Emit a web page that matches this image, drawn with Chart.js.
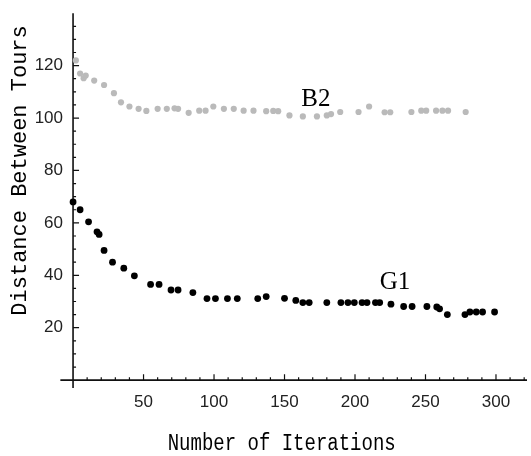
<!DOCTYPE html>
<html>
<head>
<meta charset="utf-8">
<script src="https://cdn.jsdelivr.net/npm/chart.js@4.4.1/dist/chart.umd.min.js"></script>
<style>
  html, body { margin: 0; padding: 0; background: #fff; }
  #wrap { width: 531px; height: 456px; }
</style>
</head>
<body>
<div id="wrap"><canvas id="myChart"></canvas></div>
<script>
// G1 series (black dots)
let g1Iter = [0, 5, 11, 17, 18.5, 22, 28, 36, 43.5, 55, 61, 69.5, 74.5, 85, 95, 101, 109.5, 116.5, 131, 137,
    150, 158, 163, 167.5, 180, 190, 195, 199.5, 205, 208.5, 214.5, 217.5, 225.5, 234.5, 240.5, 251, 258, 260,
    265.5, 278, 281.5, 286, 290.5, 299];
let g1Dist = [68, 65, 60.4, 56.6, 55.6, 49.5, 45, 42.7, 39.8, 36.5, 36.5, 34.4, 34.4, 33.4, 31.1, 31.1, 31.1, 31.1, 31.1, 31.9,
    31.2, 30.4, 29.6, 29.6, 29.6, 29.6, 29.6, 29.6, 29.6, 29.6, 29.6, 29.6, 29, 28.1, 28.1, 28.1, 27.9, 27.2,
    25, 25, 26, 26, 26, 26];

// B2 series (grey dots)
let b2Iter = [2, 5, 7.5, 9, 15, 22, 29, 34, 40, 46.5, 52, 60, 66.5, 72, 74.5, 82, 89.5, 94, 99.5, 107,
    114, 121, 128, 137, 142, 145.5, 153.5, 163, 173, 180, 183, 189.5, 202.5, 210, 221, 225, 240, 247, 250.5,
    257.5, 262, 266, 278.5];
let b2Dist = [122, 117, 115.2, 116.2, 114.3, 112.6, 109.5, 106, 104.4, 103.5, 102.7, 103.5, 103.5, 103.7, 103.5, 102, 102.8, 102.8, 104.4, 103.5,
    103.5, 102.8, 102.8, 102.6, 102.7, 102.6, 101, 100.6, 100.6, 101, 101.5, 102.3, 102.3, 104.4, 102.2, 102.2, 102.3, 102.8, 102.8,
    102.8, 102.8, 102.8, 102.3];

// Axis tick labels and texts
let xTickLabels = [50, 100, 150, 200, 250, 300];
let yTickLabels = [20, 40, 60, 80, 100, 120];
let seriesNames = ["G1", "B2"];
let xTitle = "Number of Iterations";
let yTitle = "Distance Between Tours";

// where the series names sit, in data units
let nameAt = [[228.4, 34.9], [172.2, 104.6]];

function toPoints(xs, ys) {
    return xs.map(function(x, i) { return { x: x, y: ys[i] }; });
}

// Mathematica style axes crossing at the origin, ticks pointing inward
let axesPlugin = {
    id: 'axesPlugin',
    beforeDatasetsDraw: function(chart) {
        let ctx = chart.ctx;
        let xs = chart.scales.x;
        let ys = chart.scales.y;
        let x0 = xs.getPixelForValue(0);
        let y0 = ys.getPixelForValue(0);
        ctx.save();
        ctx.strokeStyle = '#111';
        ctx.lineWidth = 1.6;
        ctx.beginPath();
        ctx.moveTo(xs.getPixelForValue(-9), y0);
        ctx.lineTo(xs.right, y0);
        ctx.moveTo(x0, ys.top);
        ctx.lineTo(x0, ys.bottom);
        ctx.stroke();

        ctx.lineWidth = 1.2;
        ctx.beginPath();
        for (let v = 10; v <= 320; v += 10) {
            let px = xs.getPixelForValue(v);
            let len = v % 50 === 0 ? 6 : 3;
            ctx.moveTo(px, y0);
            ctx.lineTo(px, y0 - len);
        }
        for (let v = 5; v <= 135; v += 5) {
            let py = ys.getPixelForValue(v);
            let len = v % 20 === 0 ? 6 : 3;
            ctx.moveTo(x0, py);
            ctx.lineTo(x0 + len, py);
        }
        ctx.stroke();
        ctx.restore();
    },
    afterDraw: function(chart) {
        let ctx = chart.ctx;
        let xs = chart.scales.x;
        let ys = chart.scales.y;
        ctx.save();
        ctx.fillStyle = '#000';

        // series names
        ctx.font = '25px "Liberation Serif"';
        ctx.textAlign = 'center';
        ctx.textBaseline = 'alphabetic';
        seriesNames.forEach(function(n, i) {
            ctx.fillText(n, xs.getPixelForValue(nameAt[i][0]), ys.getPixelForValue(nameAt[i][1]));
        });

        // x title (slightly tall letters like the original)
        ctx.save();
        ctx.translate(xs.getPixelForValue(148), chart.height - 6);
        ctx.scale(1, 1.3);
        ctx.font = '19px "Liberation Mono"';
        ctx.fillText(xTitle, 0, 0);
        ctx.restore();

        // y title
        ctx.save();
        ctx.translate(26, ys.getPixelForValue(80));
        ctx.rotate(-Math.PI / 2);
        ctx.font = '22px "Liberation Mono"';
        ctx.fillText(yTitle, 0, 0);
        ctx.restore();

        ctx.restore();
    }
};

let ctx = document.getElementById('myChart').getContext('2d');
let myChart = new Chart(ctx, {
    type: 'scatter',
    data: {
        datasets: [{
            label: seriesNames[0],
            data: toPoints(g1Iter, g1Dist),
            backgroundColor: '#000',
            borderWidth: 0,
            pointRadius: 3.4,
            clip: false
        }, {
            label: seriesNames[1],
            data: toPoints(b2Iter, b2Dist),
            backgroundColor: '#bababa',
            borderWidth: 0,
            pointRadius: 3.1,
            clip: false
        }]
    },
    options: {
        responsive: true,
        maintainAspectRatio: false,
        animation: false,
        layout: { padding: { top: 7, left: 0, right: 0, bottom: 0 } },
        plugins: {
            legend: { display: false },
            tooltip: { enabled: false }
        },
        scales: {
            x: {
                type: 'linear',
                min: -5,
                max: 322,
                grid: { display: false, drawTicks: false },
                border: { display: false },
                afterBuildTicks: function(s) { s.ticks = xTickLabels.map(function(v) { return { value: v }; }); },
                afterFit: function(s) { s.height = 68; },
                ticks: {
                    font: { family: 'Liberation Sans', size: 17 },
                    color: '#222',
                    padding: 4,
                    maxRotation: 0,
                    autoSkip: false
                }
            },
            y: {
                type: 'linear',
                min: -3,
                max: 140,
                grid: { display: false, drawTicks: false },
                border: { display: false },
                afterBuildTicks: function(s) { s.ticks = yTickLabels.map(function(v) { return { value: v }; }); },
                afterFit: function(s) { s.width = 66; },
                ticks: {
                    font: { family: 'Liberation Sans', size: 17 },
                    color: '#222',
                    padding: 3,
                    autoSkip: false
                }
            }
        }
    },
    plugins: [axesPlugin]
});
</script>
</body>
</html>
